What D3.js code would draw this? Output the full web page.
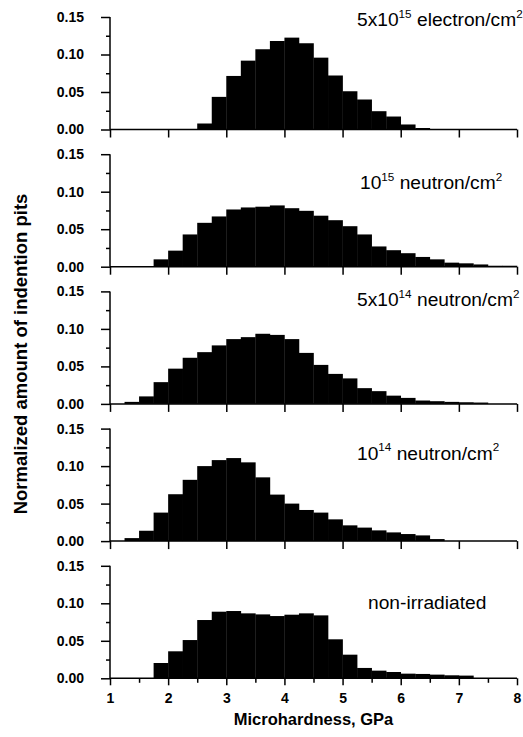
<!DOCTYPE html>
<html>
<head>
<meta charset="utf-8">
<script src="https://cdn.jsdelivr.net/npm/d3@7"></script>
<style>
  html, body { margin: 0; padding: 0; background: #fff; }
  svg { display: block; }
</style>
</head>
<body>
<svg id="chart" width="523" height="737"></svg>
<script>
// ---- data ----
const binWidth = 0.25;
const xTickValues = [1, 2, 3, 4, 5, 6, 7, 8];
const yTickValues = [0.00, 0.05, 0.10, 0.15];
const yTickLabels = ["0.00", "0.05", "0.10", "0.15"];

const electron5e15Start = 2.5;
const electron5e15 = [0.008, 0.0435, 0.0714, 0.0918, 0.107, 0.118, 0.1225, 0.115, 0.0958, 0.072, 0.051, 0.040, 0.0244, 0.0173, 0.0067, 0.002];

const neutron1e15Start = 1.75;
const neutron1e15 = [0.0098, 0.0214, 0.043, 0.0585, 0.067, 0.0763, 0.079, 0.080, 0.0817, 0.078, 0.0745, 0.068, 0.062, 0.054, 0.043, 0.027, 0.022, 0.018, 0.013, 0.0098, 0.0054, 0.0045, 0.003, 0.0013, 0.0013];

const neutron5e14Start = 1.25;
const neutron5e14 = [0.0027, 0.010, 0.029, 0.047, 0.0615, 0.069, 0.078, 0.0864, 0.089, 0.0935, 0.092, 0.0864, 0.068, 0.052, 0.040, 0.034, 0.021, 0.017, 0.011, 0.008, 0.0045, 0.0036, 0.0027, 0.0022, 0.0018];

const neutron1e14Start = 1.25;
const neutron1e14 = [0.004, 0.0138, 0.038, 0.0625, 0.0817, 0.100, 0.108, 0.1107, 0.105, 0.085, 0.062, 0.050, 0.0415, 0.038, 0.029, 0.021, 0.018, 0.0143, 0.0116, 0.0094, 0.0076, 0.0027];

const nonIrradiatedStart = 1.75;
const nonIrradiated = [0.0204, 0.036, 0.051, 0.0777, 0.0888, 0.0897, 0.0866, 0.0852, 0.083, 0.0848, 0.0866, 0.0839, 0.052, 0.0315, 0.0138, 0.0102, 0.0084, 0.0062, 0.0058, 0.0049, 0.004, 0.0036];

// label segments: [text, isSuperscript]
const label1 = [["5x10", false], ["15", true], [" electron/cm", false], ["2", true]];
const label2 = [["10", false], ["15", true], [" neutron/cm", false], ["2", true]];
const label3 = [["5x10", false], ["14", true], [" neutron/cm", false], ["2", true]];
const label4 = [["10", false], ["14", true], [" neutron/cm", false], ["2", true]];
const label5 = [["non-irradiated", false]];

const xTitle = "Microhardness, GPa";
const yTitle = "Normalized amount of indention pits";

const panels = [
  { start: electron5e15Start, values: electron5e15, label: label1 },
  { start: neutron1e15Start, values: neutron1e15, label: label2 },
  { start: neutron5e14Start, values: neutron5e14, label: label3 },
  { start: neutron1e14Start, values: neutron1e14, label: label4 },
  { start: nonIrradiatedStart, values: nonIrradiated, label: label5 }
];

// ---- layout ----
const svg = d3.select("#chart");
const left = 110, right = 517;
const firstTop = 17, panelStep = 137.2, panelH = 112.5;
const labelX = [357, 360, 357, 357, 368];
const labelDy = [9, 35, 15, 31, 43];

const x = d3.scaleLinear().domain([1, 8]).range([left, right]);

panels.forEach((p, i) => {
  const top = firstTop + i * panelStep;
  const bottom = top + panelH;
  const y = d3.scaleLinear().domain([0, 0.15]).range([bottom, top]);
  const g = svg.append("g");

  const bins = p.values.map((v, k) => ({ x0: p.start + k * binWidth, x1: p.start + (k + 1) * binWidth, v }));
  g.selectAll("rect").data(bins).enter().append("rect")
    .attr("x", d => x(d.x0))
    .attr("width", d => x(d.x1) - x(d.x0) + 0.3)
    .attr("y", d => y(d.v))
    .attr("height", d => y(0) - y(d.v))
    .attr("fill", "#000");

  // y axis
  const yAxis = d3.axisLeft(y).tickValues(yTickValues)
    .tickFormat((d, k) => yTickLabels[k]).tickSize(9).tickPadding(17);
  const ya = g.append("g").attr("transform", `translate(${left},0)`).call(yAxis);
  ya.select(".domain").attr("d", `M0,${top}V${bottom}`);
  ya.selectAll("text").attr("font-family", "Liberation Sans, Arial, sans-serif")
    .attr("font-weight", "bold").attr("font-size", 14).attr("fill", "#000");
  // y minor ticks
  const yMinor = d3.axisLeft(y).tickValues([0.025, 0.075, 0.125]).tickSize(4).tickFormat("");
  const ym = g.append("g").attr("transform", `translate(${left},0)`).call(yMinor);
  ym.select(".domain").remove();

  // x axis
  const last = i === panels.length - 1;
  const xAxis = d3.axisBottom(x).tickValues(xTickValues).tickSize(last ? 7 : 8)
    .tickFormat(last ? d3.format("d") : "").tickPadding(8);
  const xa = g.append("g").attr("transform", `translate(0,${bottom})`).call(xAxis);
  xa.select(".domain").attr("d", `M${left},0H${right}`);
  xa.selectAll("text").attr("font-family", "Liberation Sans, Arial, sans-serif")
    .attr("font-weight", "bold").attr("font-size", 14).attr("fill", "#000");
  if (last) {
    const xMinor = d3.axisBottom(x).tickValues([1.5, 2.5, 3.5, 4.5, 5.5, 6.5, 7.5]).tickSize(4.5).tickFormat("");
    const xm = g.append("g").attr("transform", `translate(0,${bottom})`).call(xMinor);
    xm.select(".domain").remove();
  }

  g.selectAll(".domain, .tick line").attr("stroke", "#000").attr("stroke-width", 1.5);

  // panel label
  const t = g.append("text")
    .attr("x", labelX[i]).attr("y", top + labelDy[i])
    .attr("font-family", "Liberation Sans, Arial, sans-serif")
    .attr("font-size", 19.2).attr("fill", "#000");
  p.label.forEach(([s, sup], k) => {
    const ts = t.append("tspan").text(s);
    if (sup) ts.attr("font-size", 11.7).attr("dy", -8.5);
    else if (k > 0) ts.attr("dy", 8.5);
  });
});

// axis titles
svg.append("text")
  .attr("x", (left + right) / 2).attr("y", 725)
  .attr("text-anchor", "middle")
  .attr("font-family", "Liberation Sans, Arial, sans-serif")
  .attr("font-weight", "bold").attr("font-size", 16.5).attr("fill", "#000")
  .text(xTitle);

svg.append("text")
  .attr("transform", "translate(27,354) rotate(-90)")
  .attr("text-anchor", "middle")
  .attr("font-family", "Liberation Sans, Arial, sans-serif")
  .attr("font-weight", "bold").attr("font-size", 18.5).attr("fill", "#000")
  .text(yTitle);
</script>
</body>
</html>
